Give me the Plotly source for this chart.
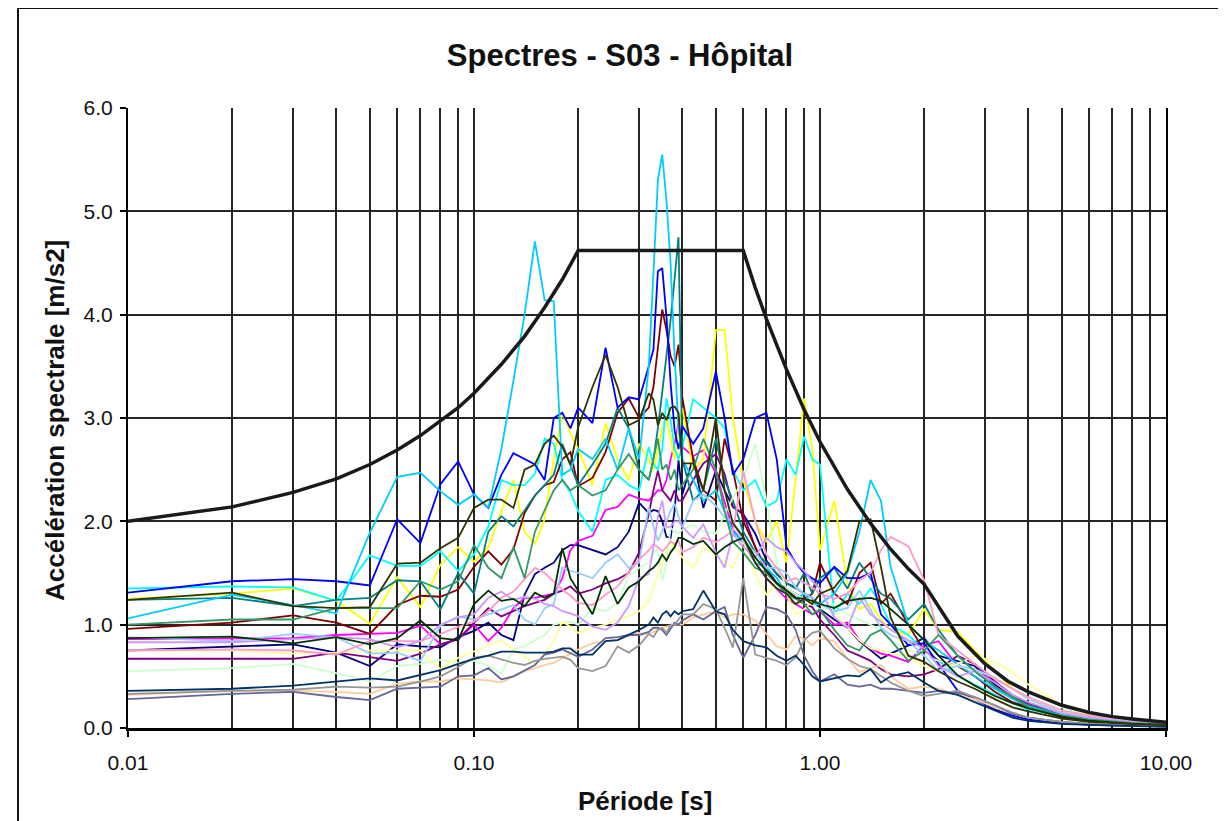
import plotly.graph_objects as go

# Periods (s) shared by all recorded spectra
P = [0.01,0.02,0.03,0.04,0.05,0.06,0.07,0.08,0.09,0.10,
     0.11,0.12,0.13,0.14,0.15,0.16,0.17,0.18,0.19,0.20,
     0.22,0.24,0.26,0.28,0.30,
     0.32,0.33,0.34,0.35,0.36,0.37,0.38,0.39,0.40,
     0.43,0.46,0.50,0.53,0.56,0.60,
     0.65,0.70,0.75,0.80,0.85,0.90,0.95,
     1.0,1.1,1.2,1.3,1.4,1.5,1.6,1.8,2.0,
     2.2,2.5,2.8,3.2,3.6,4.0,5.0,6.0,8.0,10.0]

navy = [0.75,0.79,0.81,0.73,0.60,0.81,0.79,0.78,0.88,0.94,
        1.02,0.90,0.85,1.29,1.49,1.55,1.60,1.72,1.77,1.77,
        1.72,1.68,1.75,1.90,2.18,
        2.08,2.11,2.10,2.00,1.85,1.84,2.10,2.59,2.26,
        2.62,2.13,2.49,2.30,2.14,2.07,
        1.88,1.62,1.49,1.40,1.36,1.30,1.26,
        1.15,1.05,0.97,0.84,0.75,0.67,0.72,0.80,0.87,
        0.70,0.65,0.60,0.42,0.30,0.22,0.12,0.08,0.04,0.03]
magenta = [0.86,0.87,0.87,0.90,0.91,0.92,0.99,0.81,0.86,1.00,
           0.84,0.97,1.16,1.26,1.26,1.28,1.30,1.45,1.72,1.81,
           1.86,2.11,2.14,2.26,2.22,
           2.20,2.25,2.30,2.30,2.40,2.60,2.75,2.95,2.72,
           2.63,2.69,2.47,2.18,1.92,1.79,
           1.60,1.45,1.35,1.25,1.20,1.15,1.10,
           1.13,1.00,1.02,0.85,0.77,0.72,0.70,0.64,0.80,
           0.84,0.60,0.55,0.45,0.30,0.22,0.12,0.08,0.05,0.03]
yellow = [1.25,1.30,1.35,1.23,1.01,1.46,1.17,1.58,1.75,1.61,
          1.75,2.10,2.40,1.90,1.78,2.02,2.60,3.05,2.85,2.70,
          2.35,2.95,2.60,2.40,2.75,
          2.60,2.50,2.70,2.90,3.00,2.80,2.60,2.90,3.10,
          2.50,2.60,3.85,3.85,3.00,2.40,
          2.00,1.80,2.00,1.60,2.40,3.19,2.70,
          1.72,2.20,1.40,1.15,1.20,1.05,0.95,0.90,1.15,
          0.95,0.93,0.75,0.55,0.38,0.28,0.15,0.10,0.05,0.04]
cyan = [1.35,1.37,1.36,1.23,1.67,1.57,1.57,1.71,1.52,1.68,
        1.95,2.40,2.35,2.35,2.46,2.80,2.75,2.40,2.28,2.10,
        1.90,2.40,2.45,2.35,2.30,
        2.72,2.55,2.50,2.70,3.19,2.98,2.70,2.60,2.72,
        3.18,3.10,3.00,2.90,2.50,2.30,
        2.40,2.14,2.20,2.60,2.45,2.82,2.60,
        2.55,1.10,1.30,1.20,1.35,1.20,1.00,0.90,0.75,
        0.65,0.50,0.42,0.32,0.24,0.18,0.11,0.07,0.04,0.03]
purple = [0.67,0.67,0.67,0.73,0.69,0.65,0.72,0.81,0.86,1.02,
          1.16,1.08,1.13,1.18,1.21,1.24,1.30,1.33,1.37,1.30,
          1.34,1.40,1.44,1.50,1.70,
          2.07,2.30,2.49,2.30,2.25,2.20,2.30,2.20,2.20,
          2.40,2.56,2.65,2.46,2.14,2.07,
          1.75,1.55,1.40,1.33,1.26,1.20,1.17,
          1.05,0.90,0.75,0.70,0.65,0.57,0.52,0.50,0.52,
          0.57,0.70,0.62,0.45,0.32,0.24,0.13,0.09,0.05,0.03]
maroon = [0.96,1.02,1.09,1.02,0.91,1.19,1.28,1.27,1.34,1.56,
          1.71,1.58,1.73,2.08,2.25,2.35,2.38,2.60,2.67,2.34,
          2.42,2.67,3.05,3.19,3.00,
          3.10,3.30,3.70,4.05,3.85,3.60,3.50,3.71,3.20,
          2.60,2.30,2.20,2.80,2.50,2.00,
          1.75,1.50,1.40,1.35,1.30,1.25,1.30,
          1.60,1.30,1.20,1.50,1.60,1.20,1.30,1.00,0.75,
          0.65,0.60,0.50,0.35,0.25,0.20,0.10,0.07,0.04,0.03]
teal = [1.24,1.26,1.18,1.24,1.26,1.43,1.42,1.15,1.50,1.30,
        1.90,2.05,1.95,2.10,2.25,2.35,2.45,2.75,2.55,2.35,
        2.55,2.75,3.10,2.90,2.50,
        2.40,2.60,2.90,3.25,3.60,3.95,4.35,4.75,2.60,
        2.20,2.30,2.80,2.40,2.20,1.90,
        1.70,1.60,1.50,1.40,1.35,1.50,1.30,
        1.45,1.55,1.35,1.60,1.45,1.30,1.25,1.05,1.20,
        0.95,0.70,0.55,0.40,0.30,0.22,0.13,0.09,0.05,0.03]
blue = [1.31,1.42,1.44,1.42,1.38,2.02,1.79,2.36,2.58,2.26,
        2.13,2.45,2.66,2.60,2.55,2.40,3.00,3.05,2.90,3.10,
        2.95,3.68,3.10,3.20,3.18,
        3.50,3.66,4.42,4.45,3.98,3.34,2.88,2.70,2.92,
        2.75,2.90,3.45,3.00,2.45,2.60,
        3.00,3.05,2.60,1.75,1.60,1.50,1.45,
        1.40,1.56,1.45,1.45,1.50,1.10,1.00,0.80,0.82,
        0.62,0.36,0.28,0.18,0.12,0.08,0.05,0.03,0.02,0.015]
skyblue = [1.06,1.29,1.19,1.11,1.89,2.43,2.47,2.29,2.16,2.26,
           2.13,2.70,3.36,4.00,4.71,4.14,4.13,2.45,2.50,2.70,
           2.60,2.80,2.50,2.90,2.60,
           3.50,4.40,5.30,5.55,5.10,4.50,3.60,2.90,2.60,
           2.40,2.20,2.30,2.10,1.90,1.80,
           1.60,1.55,1.45,1.30,1.25,1.30,1.20,
           1.20,1.30,1.50,1.90,2.40,2.20,1.56,1.00,0.85,
           0.75,0.62,0.50,0.38,0.28,0.21,0.12,0.08,0.05,0.03]
lightgreen = [0.55,0.58,0.62,0.53,0.45,0.60,0.62,0.66,0.63,0.65,
              0.60,0.53,0.76,0.79,0.85,0.90,1.00,1.02,1.03,1.00,
              1.16,1.13,1.21,1.47,1.55,
              1.60,1.68,1.75,1.42,1.60,1.94,1.90,1.88,1.92,
              1.97,1.90,1.88,2.07,2.23,2.40,
              2.75,2.20,1.60,1.35,1.30,1.25,1.20,
              1.15,1.20,1.10,1.05,1.00,0.95,0.85,0.75,0.70,
              0.65,0.60,0.55,0.50,0.45,0.35,0.20,0.12,0.07,0.05]
lightyellow = [0.75,0.75,0.72,0.73,0.75,0.75,0.75,0.57,0.68,0.74,
               0.80,0.85,0.76,0.69,0.61,0.71,0.85,1.03,0.98,0.92,
               0.97,1.00,1.05,1.08,1.13,
               1.23,1.35,1.49,1.60,1.70,1.81,1.75,1.71,1.65,
               1.55,1.75,1.68,1.60,1.55,1.81,
               1.49,1.29,1.39,1.30,1.10,1.15,1.23,
               1.20,1.13,0.97,0.85,0.77,0.75,0.72,0.70,0.60,
               0.55,0.62,0.70,0.64,0.54,0.42,0.22,0.13,0.07,0.05]
paleblue = [0.88,0.84,0.91,0.88,0.72,0.73,0.65,0.99,1.08,1.05,
            1.10,1.15,1.19,1.05,1.00,1.16,1.20,1.55,1.52,1.50,
            1.45,1.60,1.68,1.55,1.60,
            2.14,1.95,1.81,1.90,2.00,2.10,2.17,2.05,1.94,
            2.20,2.26,2.15,2.04,2.00,1.80,
            1.70,1.55,1.55,1.50,1.36,1.30,1.26,
            1.20,1.13,1.16,1.33,1.15,0.97,0.90,0.84,0.70,
            0.55,0.60,0.57,0.48,0.38,0.28,0.15,0.10,0.06,0.04]
rose = [0.75,0.76,0.75,0.71,0.84,0.84,0.84,0.91,0.98,1.03,
        1.13,1.26,1.32,1.44,1.55,1.50,1.42,1.34,1.28,1.21,
        1.19,1.29,1.37,1.50,1.63,
        1.72,1.78,1.75,1.71,1.75,1.81,1.78,1.81,1.70,
        1.75,1.84,1.80,1.85,1.91,2.49,
        2.00,1.68,1.55,1.42,1.45,1.40,1.36,
        1.30,1.25,1.30,1.43,1.50,1.72,1.85,1.76,1.43,
        0.90,0.75,0.62,0.48,0.38,0.30,0.17,0.12,0.08,0.06]
lavender = [0.83,0.83,0.86,0.88,0.86,0.78,0.84,1.00,1.07,1.10,
            1.26,1.32,1.24,1.27,1.25,1.20,1.18,1.13,1.11,1.08,
            0.98,0.95,1.02,1.18,1.45,
            1.49,1.75,2.04,2.20,1.94,1.95,2.00,2.00,1.95,
            1.84,1.97,1.70,1.55,1.88,1.75,
            1.65,1.84,1.75,1.71,1.60,1.52,1.42,
            1.35,1.07,0.97,1.26,1.10,1.03,0.95,0.85,0.77,
            0.60,0.50,0.55,0.44,0.32,0.25,0.14,0.10,0.06,0.04]
tan = [0.32,0.36,0.36,0.35,0.33,0.43,0.45,0.45,0.48,0.47,
       0.46,0.44,0.50,0.55,0.58,0.61,0.63,0.68,0.72,0.76,
       0.82,0.84,0.85,0.89,0.92,
       0.91,0.93,0.95,0.97,0.98,0.99,1.00,1.00,1.00,
       1.07,1.10,1.13,1.07,1.10,1.10,
       1.04,0.91,0.79,0.76,0.89,0.86,0.80,
       0.87,0.84,0.67,0.54,0.58,0.61,0.50,0.38,0.40,
       0.38,0.32,0.28,0.20,0.14,0.10,0.06,0.04,0.02,0.02]
bluegray = [0.28,0.33,0.35,0.30,0.27,0.38,0.39,0.40,0.50,0.51,
            0.58,0.47,0.50,0.56,0.61,0.71,0.73,0.76,0.72,0.69,
            0.76,0.87,0.88,0.90,0.90,
            0.93,0.97,0.97,0.95,0.90,0.96,1.02,1.00,1.04,
            1.10,1.05,1.13,1.17,0.90,0.68,
            0.90,1.17,1.15,1.10,0.95,0.70,0.55,
            0.45,0.52,0.42,0.40,0.42,0.38,0.38,0.36,0.34,
            0.36,0.34,0.30,0.22,0.14,0.10,0.06,0.04,0.02,0.02]
gray = [0.33,0.36,0.37,0.40,0.39,0.40,0.45,0.50,0.59,0.68,
        0.70,0.66,0.63,0.61,0.65,0.67,0.68,0.69,0.66,0.58,
        0.55,0.60,0.79,0.73,0.80,
        0.91,0.88,0.95,0.97,0.92,1.00,1.00,1.05,1.10,
        1.10,1.20,1.15,0.97,0.78,1.45,
        0.71,0.68,0.65,0.61,0.68,0.85,0.92,
        0.94,0.77,0.67,0.60,0.57,0.50,0.44,0.36,0.31,
        0.33,0.36,0.30,0.22,0.15,0.10,0.06,0.04,0.03,0.02]
darkteal = [0.36,0.38,0.41,0.45,0.48,0.46,0.51,0.56,0.62,0.67,
            0.70,0.74,0.74,0.73,0.73,0.73,0.74,0.77,0.77,0.71,
            0.71,0.84,0.85,0.90,0.95,
            1.00,1.07,1.02,1.10,1.13,1.08,1.13,1.10,1.13,
            1.15,1.33,1.13,1.10,0.95,0.84,
            0.80,0.78,0.70,0.65,0.70,0.61,0.50,
            0.45,0.48,0.51,0.50,0.57,0.44,0.50,0.54,0.44,
            0.36,0.32,0.25,0.17,0.10,0.07,0.04,0.03,0.02,0.01]
seagreen = [1.00,1.05,1.05,1.16,1.16,1.16,1.42,1.34,1.42,1.77,
            1.55,1.45,1.75,1.45,1.90,2.10,2.30,2.40,2.30,2.35,
            2.25,2.30,2.50,2.65,2.50,
            2.40,2.60,2.80,2.50,2.55,2.40,2.50,2.30,2.35,
            2.50,2.80,2.50,2.10,1.80,1.70,
            1.55,1.50,1.40,1.30,1.25,1.20,1.10,
            1.15,0.95,0.80,0.75,0.90,0.95,0.85,0.65,0.75,
            0.90,0.70,0.55,0.40,0.30,0.20,0.12,0.08,0.05,0.03]
darkgreen = [0.87,0.885,0.82,0.88,0.81,0.87,1.04,0.87,0.85,1.20,
             1.33,1.23,1.25,1.18,1.31,1.26,1.30,1.74,1.45,1.33,
             1.10,1.47,1.20,1.36,1.42,
             1.52,1.55,1.60,1.68,1.62,1.70,1.75,1.84,1.84,
             1.78,1.81,1.68,1.75,1.80,1.84,
             1.65,1.52,1.40,1.33,1.26,1.25,1.23,
             1.20,1.16,1.23,1.25,1.26,1.23,1.15,1.00,0.85,
             0.70,0.51,0.41,0.31,0.24,0.19,0.11,0.07,0.04,0.03]
olive = [1.24,1.31,1.18,1.16,1.17,1.59,1.60,1.74,1.84,2.13,
         2.21,2.21,2.13,2.50,2.55,2.75,2.83,2.72,2.55,2.91,
         3.30,3.61,3.30,2.93,2.98,
         3.24,3.18,2.93,3.05,2.98,3.10,3.11,3.05,2.56,
         2.56,2.30,3.00,2.30,1.98,1.85,
         1.60,1.45,1.35,1.30,1.20,1.25,1.20,
         1.30,1.36,1.52,2.00,2.02,1.56,1.07,0.70,0.64,
         0.55,0.45,0.38,0.28,0.20,0.16,0.09,0.06,0.04,0.03]

# Design (code) spectrum
T_design = [0.01,0.02,0.03,0.04,0.05,0.06,0.07,0.08,0.09,0.10,0.12,0.14,0.16,0.18,0.20,
            0.60,0.65,0.70,0.80,0.90,1.0,1.2,1.4,1.6,1.8,2.0,2.5,3.0,3.5,4.0,5.0,6.0,7.0,8.0,10.0]
Sa_design = [2.00,2.14,2.28,2.41,2.55,2.69,2.83,2.97,3.10,3.24,3.52,3.79,4.07,4.34,4.62,
             4.62,4.26,3.96,3.47,3.08,2.77,2.31,1.98,1.73,1.54,1.39,0.89,0.62,0.45,0.35,0.22,0.15,0.11,0.087,0.055]

series = [
    ("navy", navy, "#000080"), ("magenta", magenta, "#FF00FF"), ("yellow", yellow, "#FFFF00"),
    ("cyan", cyan, "#00FFFF"), ("purple", purple, "#800080"), ("maroon", maroon, "#800000"),
    ("teal", teal, "#008080"), ("blue", blue, "#0000FF"), ("skyblue", skyblue, "#00CCFF"),
    ("lightgreen", lightgreen, "#CCFFCC"), ("lightyellow", lightyellow, "#FFFF99"),
    ("paleblue", paleblue, "#99CCFF"), ("rose", rose, "#FF99CC"), ("lavender", lavender, "#CC99FF"),
    ("tan", tan, "#FFCC99"), ("bluegray", bluegray, "#666699"), ("gray", gray, "#969696"),
    ("darkteal", darkteal, "#003366"), ("seagreen", seagreen, "#339966"),
    ("darkgreen", darkgreen, "#003300"), ("olive", olive, "#333300"),
]

fig = go.Figure()
for name, vals, col in series:
    fig.add_trace(go.Scatter(x=P, y=vals, mode="lines", name=name,
                             line=dict(color=col, width=1.8), showlegend=False))
fig.add_trace(go.Scatter(x=T_design, y=Sa_design, mode="lines", name="design",
                         line=dict(color="#1a1a1a", width=3.5), showlegend=False))

minor_vals = [m * d for d in (0.01, 0.1, 1.0) for m in range(2, 10)]
grid_col = "#262626"
FONT = "Liberation Sans, Arial, sans-serif"

# page has an 8px body margin: figure 1218x813 fills the 1226x821 window
W, H = 1218, 813
L, T_, PW, PH = 120, 100, 1038, 620

fig.update_xaxes(type="log", range=[-2, 1],
                 tickvals=[0.01, 0.1, 1, 10], ticktext=["0.01", "0.10", "1.00", "10.00"],
                 ticks="outside", ticklen=6, tickcolor="#000", tickwidth=1.5,
                 ticklabelstandoff=8,
                 showgrid=True, gridcolor=grid_col, gridwidth=1.8,
                 minor=dict(tickvals=minor_vals, showgrid=True, gridcolor=grid_col,
                            gridwidth=1.8, ticks=""),
                 showline=True, linecolor="#000", linewidth=3, zeroline=False,
                 tickfont=dict(family=FONT, size=21, color="#111"))
fig.update_yaxes(range=[0, 6], dtick=1, tickformat=".1f",
                 ticks="outside", ticklen=6, tickcolor="#000", tickwidth=1.5,
                 ticklabelstandoff=3,
                 showgrid=True, gridcolor=grid_col, gridwidth=1.8,
                 showline=True, linecolor="#000", linewidth=2, mirror=True, zeroline=False,
                 tickfont=dict(family=FONT, size=21, color="#111"))

fig.update_layout(
    width=W, height=H,
    margin=dict(l=L, r=W - L - PW, t=T_, b=H - T_ - PH),
    paper_bgcolor="white", plot_bgcolor="white",
    title=dict(text="<b>Spectres - S03 - Hôpital</b>", x=612/W, xanchor="center",
               y=1 - 47/H, yanchor="middle",
               font=dict(family=FONT, size=31, color="#111")),
    annotations=[
        dict(text="<b>Période [s]</b>", xref="paper", yref="paper",
             x=(645-128)/PW, y=(728-801)/PH, xanchor="center", yanchor="middle",
             showarrow=False, font=dict(family=FONT, size=26, color="#111")),
        dict(text="<b>Accélération spectrale [m/s2]</b>", xref="paper", yref="paper",
             x=(55-128)/PW, y=(728-421)/PH, xanchor="center", yanchor="middle",
             textangle=-90, showarrow=False, font=dict(family=FONT, size=26, color="#111")),
    ],
    shapes=[
        dict(type="line", xref="paper", yref="paper",
             x0=(18-128)/PW, x1=(18-128)/PW, y0=(728-830)/PH, y1=(728-8)/PH,
             line=dict(color="#111", width=2)),
        dict(type="line", xref="paper", yref="paper",
             x0=(18-128)/PW, x1=(1240-128)/PW, y0=(728-8)/PH, y1=(728-8)/PH,
             line=dict(color="#111", width=2)),
    ],
)

fig.write_html("out.html")
